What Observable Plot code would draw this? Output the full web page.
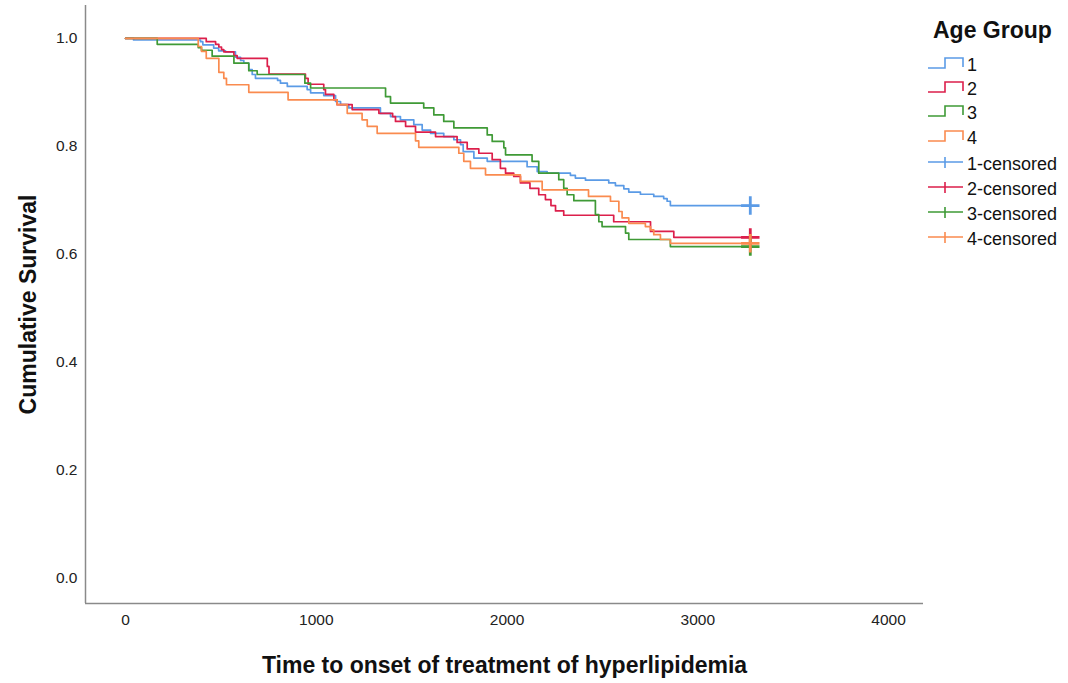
<!DOCTYPE html>
<html><head><meta charset="utf-8">
<script src="https://cdn.jsdelivr.net/npm/d3@7"></script>
<script src="https://cdn.jsdelivr.net/npm/@observablehq/plot@0.6"></script>
<style>
body{margin:0;background:#fff;font-family:Arial,"Liberation Sans",sans-serif}
#wrap{position:relative;width:1068px;height:683px;overflow:hidden}
#legend{position:absolute;left:0;top:0;width:1068px;height:683px;pointer-events:none}
.lt{position:absolute;font-size:18px;color:#111;line-height:1;white-space:nowrap}
.ltitle{position:absolute;font-size:23px;font-weight:bold;color:#111;white-space:nowrap;line-height:1}
</style></head><body>
<div id="wrap"><div id="chart"></div><div id="legend"></div></div>
<script>
const groups = ["1","2","3","4"];
const colors = ["#5b9be6","#dc1f4b","#3f9a36","#fa8b4f"];
const legendLabels = ["1","2","3","4","1-censored","2-censored","3-censored","4-censored"];

const time1 = [0,42,393,405,462,488,524,576,603,620,646,664,681,797,812,848,952,970,1039,1101,1127,1170,1336,1389,1441,1511,1555,1599,1668,1721,1756,1770,1826,1896,2105,2158,2210,2332,2358,2411,2533,2568,2612,2638,2699,2769,2821,2839,2856];
const surv1 = [1.0,0.997,0.994,0.988,0.982,0.977,0.975,0.965,0.959,0.954,0.942,0.933,0.926,0.922,0.917,0.911,0.905,0.899,0.894,0.883,0.877,0.871,0.861,0.855,0.849,0.840,0.830,0.824,0.818,0.812,0.803,0.790,0.778,0.772,0.762,0.753,0.750,0.746,0.741,0.737,0.732,0.727,0.721,0.715,0.711,0.707,0.703,0.698,0.690];

const time2 = [0,423,472,489,503,515,568,585,743,752,943,957,1039,1048,1092,1109,1188,1328,1400,1415,1468,1520,1625,1738,1791,1852,1922,1965,1992,2035,2070,2120,2166,2201,2230,2254,2297,2559,2752,2874];
const surv2 = [1.0,0.994,0.989,0.984,0.979,0.975,0.968,0.963,0.948,0.934,0.926,0.915,0.905,0.896,0.886,0.877,0.868,0.861,0.855,0.846,0.837,0.826,0.818,0.807,0.795,0.787,0.775,0.759,0.750,0.744,0.732,0.722,0.710,0.701,0.690,0.680,0.672,0.660,0.642,0.631];

const time3 = [0,166,381,398,454,568,646,690,940,970,1363,1389,1563,1616,1668,1721,1896,1922,1983,1992,2131,2166,2271,2297,2315,2350,2463,2481,2498,2621,2638,2856];
const surv3 = [1.0,0.989,0.983,0.978,0.967,0.954,0.940,0.933,0.917,0.908,0.892,0.880,0.871,0.858,0.846,0.834,0.821,0.809,0.797,0.784,0.772,0.750,0.738,0.722,0.710,0.699,0.673,0.660,0.651,0.639,0.627,0.614];

const time4 = [0,381,398,423,489,515,529,646,852,1109,1162,1240,1267,1319,1520,1537,1747,1773,1808,1887,2070,2184,2427,2542,2586,2603,2638,2725,2752,2769,2804,2856];
const surv4 = [1.0,0.985,0.976,0.963,0.937,0.926,0.914,0.900,0.886,0.877,0.861,0.849,0.837,0.824,0.810,0.798,0.787,0.772,0.759,0.747,0.735,0.719,0.707,0.698,0.679,0.667,0.657,0.651,0.645,0.636,0.627,0.620];

const censorTime = [3275,3275,3275,3275];
const censorSurv = [0.690,0.631,0.614,0.620];

const xTicks = [0,1000,2000,3000,4000];
const yTicks = [0.0,0.2,0.4,0.6,0.8,1.0];
const xTitle = "Time to onset of treatment of hyperlipidemia";
const yTitle = "Cumulative Survival";
const legendTitle = "Age Group";

const times = [time1,time2,time3,time4];
const survs = [surv1,surv2,surv3,surv4];
const rows = [];
groups.forEach((g,i)=>{
  times[i].forEach((t,j)=>rows.push({group:g,t,s:survs[i][j]}));
  rows.push({group:g,t:censorTime[i],s:survs[i][survs[i].length-1]});
});
const cens = groups.map((g,i)=>({group:g,t:censorTime[i],s:censorSurv[i]}));

const xDom = [-210,4183], yDom = [-0.048,1.061];
const chart = Plot.plot({
  width:1068, height:683,
  marginLeft:85, marginRight:145, marginTop:5, marginBottom:80,
  style:{fontFamily:"Arial, 'Liberation Sans', sans-serif", fontSize:"16px", color:"#222", background:"#fff"},
  x:{domain:xDom},
  y:{domain:yDom},
  color:{domain:groups, range:colors},
  marks:[
    Plot.axisX({ticks:xTicks, tickSize:0, tickPadding:10, label:null, tickFormat:d=>String(d), fontSize:15.5}),
    Plot.axisY({ticks:yTicks, tickSize:0, tickPadding:8, label:null, tickFormat:".1f", fontSize:15.5}),
    Plot.ruleX([xDom[0]], {stroke:"#8a8a8a", strokeWidth:1.5}),
    Plot.ruleY([yDom[0]], {stroke:"#8a8a8a", strokeWidth:1.5}),
    Plot.line(rows, {x:"t", y:"s", z:"group", stroke:"group", curve:"step-after", strokeWidth:1.7}),
    Plot.dot(cens, {x:"t", y:"s", stroke:"group", symbol:"plus", r:6, strokeWidth:2.8}),
    Plot.text([xTitle], {frameAnchor:"bottom", dy:69, fontSize:23, fontWeight:"bold", fill:"#111"}),
    Plot.text([yTitle], {frameAnchor:"left", textAnchor:"middle", dx:-57, rotate:-90, fontSize:23, fontWeight:"bold", fill:"#111"})
  ]
});
document.getElementById("chart").appendChild(chart);

// legend
const leg = document.getElementById("legend");
const t = document.createElement("div");
t.className = "ltitle"; t.textContent = legendTitle;
t.style.left = "933px"; t.style.top = "19px";
leg.appendChild(t);
const rowY = [64,88,112,137,163,188,213,238];
legendLabels.forEach((lab,i)=>{
  const c = colors[i%4];
  const y = rowY[i];
  const svgNS = "http://www.w3.org/2000/svg";
  const s = document.createElementNS(svgNS,"svg");
  s.setAttribute("width","40"); s.setAttribute("height","20");
  s.style.position="absolute"; s.style.left="926px"; s.style.top=(y-10)+"px";
  const p = document.createElementNS(svgNS,"path");
  if (i<4) p.setAttribute("d","M2,14H19V4H37V13");
  else p.setAttribute("d","M2,9H37M19,4V15");
  p.setAttribute("fill","none"); p.setAttribute("stroke",c); p.setAttribute("stroke-width","1.6");
  s.appendChild(p); leg.appendChild(s);
  const d = document.createElement("div");
  d.className="lt"; d.textContent=lab;
  d.style.left="967px"; d.style.top=(y-8)+"px";
  leg.appendChild(d);
});
</script></body></html>
